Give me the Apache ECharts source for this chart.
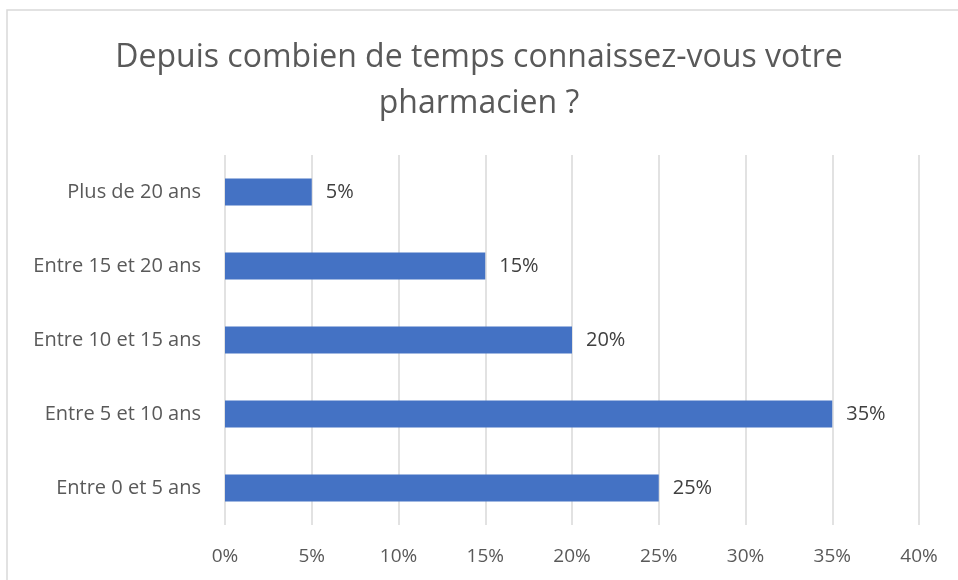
<!DOCTYPE html>
<html>
<head>
<meta charset="utf-8">
<script src="https://cdn.jsdelivr.net/npm/echarts@6/dist/echarts.min.js"></script>
<style>
  html, body { margin: 0; padding: 0; background: #fff; }
  #chart { width: 958px; height: 580px; }
</style>
</head>
<body>
<div id="chart"></div>
<script>
// données
const categories = ['Entre 0 et 5 ans', 'Entre 5 et 10 ans', 'Entre 10 et 15 ans', 'Entre 15 et 20 ans', 'Plus de 20 ans'];
const values = [25, 35, 20, 15, 5];
const titleText = 'Depuis combien de temps connaissez-vous votre\npharmacien ?';

const fontFamily = '"Open Sans", "Noto Sans", sans-serif';
const chart = echarts.init(document.getElementById('chart'));

chart.setOption({
    animation: false,
    backgroundColor: '#fff',
    title: {
        text: titleText,
        left: 'center',
        top: 30,
        textStyle: {
            color: '#595959',
            fontFamily: fontFamily,
            fontWeight: 'normal',
            fontSize: 32,
            lineHeight: 46
        }
    },
    // cadre du graphique
    graphic: [{
        type: 'rect',
        shape: { x: 7, y: 10, width: 1000, height: 600 },
        style: { fill: 'none', stroke: '#d9d9d9', lineWidth: 1.5 },
        silent: true
    }],
    grid: {
        left: 225,
        right: 39,
        top: 155,
        bottom: 55,
        containLabel: false
    },
    xAxis: {
        type: 'value',
        min: 0,
        max: 40,
        interval: 5,
        axisLine: { show: false },
        axisTick: { show: false },
        axisLabel: {
            formatter: '{value}%',
            color: '#595959',
            fontFamily: fontFamily,
            fontSize: 19,
            margin: 22
        },
        splitLine: {
            show: true,
            lineStyle: { color: '#d9d9d9', width: 1.5 }
        }
    },
    yAxis: {
        type: 'category',
        data: categories,
        axisLine: { show: false },
        axisTick: { show: false },
        axisLabel: {
            color: '#595959',
            fontFamily: fontFamily,
            fontSize: 20,
            margin: 24
        }
    },
    series: [{
        type: 'bar',
        data: values,
        barWidth: 27,
        itemStyle: { color: '#4472C4' },
        label: {
            show: true,
            position: 'right',
            distance: 14,
            formatter: '{c}%',
            color: '#404040',
            fontFamily: fontFamily,
            fontSize: 20
        }
    }]
});
</script>
</body>
</html>
